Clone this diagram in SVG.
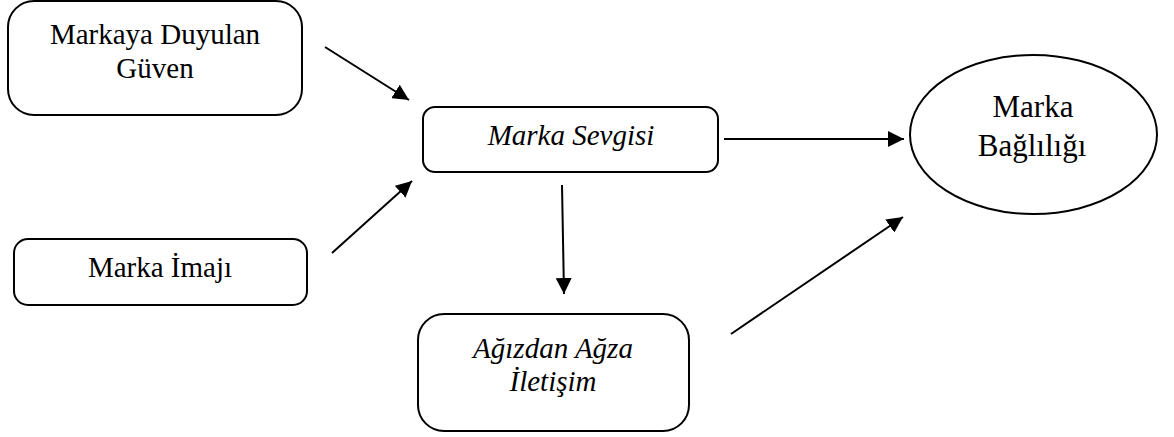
<svg xmlns="http://www.w3.org/2000/svg" width="1174" height="437" viewBox="0 0 1174 437">
<style>
.box{fill:#fff;stroke:#000;stroke-width:2}
.t{font-family:"Liberation Serif","Times New Roman",serif;font-size:29px;fill:#000;text-anchor:middle}
.i{font-style:italic}
.c{stroke:#000;stroke-width:2;fill:none}
</style>
<defs>
<marker id="ah" markerUnits="userSpaceOnUse" markerWidth="18" markerHeight="16" refX="16" refY="8" orient="auto">
<path d="M0,0 L16,8 L0,16 Z" fill="#000"/>
</marker>
</defs>
<rect width="1174" height="437" fill="#fff"/>
<g id="connectors">
<line class="c" x1="325" y1="47" x2="409" y2="100" marker-end="url(#ah)"/>
<line class="c" x1="332" y1="253" x2="412" y2="181" marker-end="url(#ah)"/>
<line class="c" x1="724" y1="139" x2="904" y2="139" marker-end="url(#ah)"/>
<line class="c" x1="562" y1="185" x2="564" y2="294" marker-end="url(#ah)"/>
<line class="c" x1="731" y1="334" x2="903" y2="217" marker-end="url(#ah)"/>
</g>
<g id="n1">
<rect class="box" x="8" y="1" width="294" height="114" rx="26"/>
<text class="t" x="155" y="44">Markaya Duyulan</text>
<text class="t" x="155" y="78">Güven</text>
</g>
<g id="n2">
<rect class="box" x="423" y="107" width="295" height="65" rx="12"/>
<text class="t i" x="571" y="145">Marka Sevgisi</text>
</g>
<g id="n3">
<rect class="box" x="14" y="239" width="293" height="66" rx="14"/>
<text class="t" x="160" y="277">Marka İmajı</text>
</g>
<g id="n4">
<rect class="box" x="418" y="314" width="271" height="117" rx="26"/>
<text class="t i" x="553" y="358">Ağızdan Ağza</text>
<text class="t i" x="553" y="391">İletişim</text>
</g>
<g id="n5">
<ellipse class="box" cx="1033.5" cy="134.5" rx="123.5" ry="79.5"/>
<text class="t" x="1033" y="117" style="font-size:31px">Marka</text>
<text class="t" x="1032" y="156" style="font-size:31px">Bağlılığı</text>
</g>
</svg>
